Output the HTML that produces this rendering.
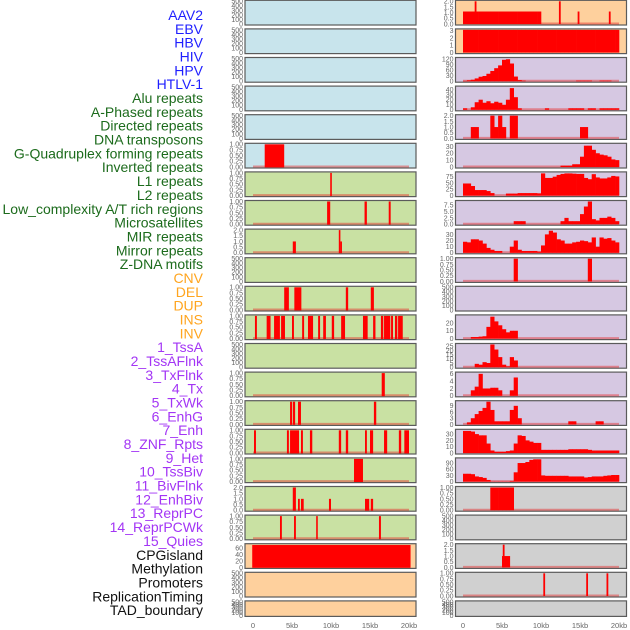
<!DOCTYPE html>
<html><head><meta charset="utf-8">
<style>
html,body{margin:0;padding:0;background:#fff;}
svg{display:block;}
text{font-family:"Liberation Sans",sans-serif;}
</style></head>
<body>
<svg id="chart" width="630" height="630" viewBox="0 0 630 630" xmlns="http://www.w3.org/2000/svg"></svg>
<script>
// ---------- data ----------
const trackLabels = ["AAV2","EBV","HBV","HIV","HPV","HTLV-1","Alu repeats","A-Phased repeats","Directed repeats","DNA transposons","G-Quadruplex forming repeats","Inverted repeats","L1 repeats","L2 repeats","Low_complexity A/T rich regions","Microsatellites","MIR repeats","Mirror repeats","Z-DNA motifs","CNV","DEL","DUP","INS","INV","1_TssA","2_TssAFlnk","3_TxFlnk","4_Tx","5_TxWk","6_EnhG","7_Enh","8_ZNF_Rpts","9_Het","10_TssBiv","11_BivFlnk","12_EnhBiv","13_ReprPC","14_ReprPCWk","15_Quies","CPGisland","Methylation","Promoters","ReplicationTiming","TAD_boundary"];
const labelGroups = [0,0,0,0,0,0,1,1,1,1,1,1,1,1,1,1,1,1,1,2,2,2,2,2,3,3,3,3,3,3,3,3,3,3,3,3,3,3,3,4,4,4,4,4];
const xTickValues = [0,5000,10000,15000,20000];
const xTickLabels = ["0","5kb","10kb","15kb","20kb"];
const binSize = 500;

// right column binned values (40 bins of 500bp)
const rB0 = [1.1,1.1,1.1,1.1,1.1,1.1,1.1,1.1,1.1,1.1,1.1,1.1,1.1,1.1,1.1,1.1,1.1,1.1,1.1,1.1,0,0,0,0,0,0,0,0,0,0,0,0,0,0,0,0,0,0,0,0];
const rS0 = [[1600,2],[12400,2],[14800,1.1],[18800,1.1]];
const rB1 = [3.1,3.1,3.1,3.1,3.1,3.1,3.1,3.1,3.1,3.1,3.1,3.1,3.1,3.1,3.1,3.1,3.1,3.1,3.1,3.1,3.1,3.1,3.1,3.1,3.1,3.1,3.1,3.1,3.1,3.1,3.1,3.1,3.1,3.1,3.1,3.1,3.1,3.1,3.1,3.1];
const rB2 = [2,5,8,15,24,28,40,55,70,85,115,118,95,25,6,3,0,0,0,0,0,0,0,0,0,0,0,0,0,3,3,3,3,0,0,3,3,3,0,0];
const rB3 = [3,0,5,15,20,14,17,13,16,14,10,20,43,25,3,0,0,0,0,0,0,3,0,0,0,0,0,3,3,3,3,0,3,3,0,3,3,3,3,3];
const rB4 = [0,0,1,1,0,0,0,2,1,2,1,0,2,2,0,0,0,0,0,0,0,0,0,0,0,0,0,0,0,0,1,1,0,0,0,0,0,0,0,0];
const rB5 = [0,0,0,0,0,0,0,0,0,0,0,0,0,0,0,0,0,0,0,0,0,0,0,0,0,2,2,2,4,4,15,31,31,25,20,18,17,15,11,10];
const rB6 = [48,48,38,22,22,22,18,10,0,0,0,8,8,8,10,10,10,10,10,9,88,70,70,75,82,86,88,88,87,86,86,70,65,85,72,68,68,72,78,76];
const rB7 = [0,0,0,0,0,0,0,0,0,0,0,0,0,1.2,1.2,1.2,0,0,0,0,0,0,0,0,0,1.2,2.5,1.2,1.2,1.2,4,7,9,2,1.5,2.5,2.5,3,2.5,1.2];
const rB8 = [18,17,22,22,20,15,8,5,3,3,0,0,10,20,5,3,3,3,3,2,12,30,36,33,22,20,15,15,17,18,20,19,17,25,10,25,23,24,20,17];
const rB9 = [0,0,0,0,0,0,0,0,0,0,0,0,0,1,0,0,0,0,0,0,0,0,0,0,0,0,0,0,0,0,0,0,1,0,0,0,0,0,0,0];
const rB11 = [0,0,2,2,2.5,3,15,28,22,17,12,8,10,10,0,0,0,0,0,0,0,0,0,0,0,0,0,0,0,0,0,0,0,0,0,0,0,0,0,0];
const rB12 = [0,0,0,4,3,6,5,27,21,12,3,1,12,8,0,0,0,0,0,0,0,0,0,0,0,0,0,0,0,0,0,0,0,0,0,0,0,0,0,0];
const rB13 = [0,0,1.5,2.5,6,2,2,2.2,2.2,1.5,0,0,1.5,5,0,0,0,0,0,0,0,0,0,0,0,0,0,0,0,0,0,0,0,0,0,0,0,0,0,0];
const rB14 = [0,1,3,5,6.5,8,11,7,1.5,1.5,1.5,1.5,7,9,3,0,0,0,0,0,0,0,0,0,0,0,0,1.5,1.5,0,0,0,0,0,1.5,1.5,0,0,0,0];
const rB15 = [35,35,34,30,28,28,15,4,2,2,2,3,4,15,28,27,20,18,16,16,5,5,5,5,5,5,5,6,6,6,6,6,5,4,4,4,4,4,4,4];
const rB16 = [38,38,36,25,22,18,8,1,1,1,1,1,3,45,90,90,95,105,108,108,30,28,28,28,28,28,28,25,25,25,25,20,22,25,25,25,28,30,32,32];
const rB17 = [0,0,0,0,0,0,0,1,1,1,1,1,1,0,0,0,0,0,0,0,0,0,0,0,0,0,0,0,0,0,0,0,0,0,0,0,0,0,0,0];
const rB19 = [0,0,0,0,0,0,0,0,0,0,1,1,0,0,0,0,0,0,0,0,0,0,0,0,0,0,0,0,0,0,0,0,0,0,0,0,0,0,0,0];
const rS19 = [[5200,2]];
const rS20 = [[10400,1],[15900,1],[18500,1]];

// left column intervals [start, end, value]
const lI5 = [[1500,4000,1]];
const lI6 = [[9900,10100,1]];
const lI7 = [[9500,9900,1],[14300,14600,1],[17400,17650,1]];
const lI8 = [[5100,5500,1],[11000,11200,2],[11200,11400,1]];
const lI10 = [[4000,4600,1],[5300,6200,1],[11900,12200,1],[15100,15500,1]];
const lI11 = [[250,500,1],[1750,2250,1],[2700,3450,1],[3600,4100,1],[5000,5250,1],[6300,6550,1],[7050,7700,1],[8350,8600,1],[9000,9350,1],[10100,10400,1],[11300,11800,1],[14100,14700,1],[15400,15700,1],[16400,16700,1],[16800,17600,1],[17700,17950,1],[18200,18500,1],[18600,19200,1]];
const lI13 = [[16500,16900,1]];
const lI14 = [[4750,5000,1],[5100,5400,1],[5770,6150,1],[15500,15800,1]];
const lI15 = [[130,380,1],[4350,4600,1],[4750,5900,1],[6150,6400,1],[7300,7600,1],[11000,11300,1],[11900,12200,1],[14360,14600,1],[15000,15400,1],[16800,17200,1],[18700,19000,1],[19400,20000,1]];
const lI16 = [[12950,14100,1]];
const lI17 = [[5100,5500,2],[5770,6000,1],[6150,6500,1],[9740,10000,1],[14360,14900,1],[15100,15400,1]];
const lI18 = [[3460,3700,1],[5260,5500,1],[8100,8300,1],[16150,16400,1]];
const lI19 = [[-100,20200,69]];

// tick sets
const tEmpty = [0,100,200,300,400,500];
const tEmptyL = ["0","100","200","300","400","500"];
const tOne = [0,0.25,0.5,0.75,1];
const tOneL = ["0.00","0.25","0.50","0.75","1.00"];
const tTwo = [0,0.5,1,1.5,2];
const tTwoL = ["0.0","0.5","1.0","1.5","2.0"];

// ---------- layout ----------
const svg = document.getElementById('chart');
const NS = 'http://www.w3.org/2000/svg';
const colors = {blue:'#c8e4ec', green:'#c9e1a3', peach:'#fed09d', purple:'#d6c8e2', gray:'#d0d0d0'};
const labelColors = ['#1f1fff','#1c6b1c','#ffa51f','#a335f5','#111111'];
function rowTop(r){return 0.3 + r*28.6;}
function rowH(r){return r===21?15.5:24.7;}
function xScale(col,p){return (col==='L'?253:463) + p/20000*156;}
function mk(tag,attrs,parent){const e=document.createElementNS(NS,tag);for(const k in attrs)e.setAttribute(k,attrs[k]);(parent||svg).appendChild(e);return e;}

function emptyP(col,row,bg){return {col,row,bg,ymax:500,ticks:tEmpty,tl:tEmptyL,empty:true};}
const panels = [];
for(let r=0;r<5;r++) panels.push(emptyP('L',r,colors.blue));
panels.push({col:'L',row:5,bg:colors.blue,ymax:1,ticks:tOne,tl:tOneL,iv:lI5});
const leftIv = {6:lI6,7:lI7,8:lI8,10:lI10,11:lI11,13:lI13,14:lI14,15:lI15,16:lI16,17:lI17,18:lI18};
for(let r=6;r<=18;r++){
  if(r===9||r===12){panels.push(emptyP('L',r,colors.green));continue;}
  const two = (r===8||r===17);
  panels.push({col:'L',row:r,bg:colors.green,ymax:two?2:1,ticks:two?tTwo:tOne,tl:two?tTwoL:tOneL,iv:leftIv[r]});
}
panels.push({col:'L',row:19,bg:colors.peach,ymax:70,ticks:[0,20,40,60],tl:["0","20","40","60"],iv:lI19,nobase:true});
panels.push(emptyP('L',20,colors.peach));
panels.push(emptyP('L',21,colors.peach));

panels.push({col:'R',row:0,bg:colors.peach,ymax:2,ticks:tTwo,tl:tTwoL,bins:rB0,sp:rS0});
panels.push({col:'R',row:1,bg:colors.peach,ymax:3.1,ticks:[0,1,2,3],tl:["0","1","2","3"],bins:rB1,nobase:true});
panels.push({col:'R',row:2,bg:colors.purple,ymax:122,ticks:[0,30,60,90,120],tl:["0","30","60","90","120"],bins:rB2});
panels.push({col:'R',row:3,bg:colors.purple,ymax:45,ticks:[0,10,20,30,40],tl:["0","10","20","30","40"],bins:rB3});
panels.push({col:'R',row:4,bg:colors.purple,ymax:2,ticks:tTwo,tl:tTwoL,bins:rB4});
panels.push({col:'R',row:5,bg:colors.purple,ymax:33,ticks:[0,10,20,30],tl:["0","10","20","30"],bins:rB5});
panels.push({col:'R',row:6,bg:colors.purple,ymax:90,ticks:[0,25,50,75],tl:["0","25","50","75"],bins:rB6});
panels.push({col:'R',row:7,bg:colors.purple,ymax:9,ticks:[0,2.5,5,7.5],tl:["0.0","2.5","5.0","7.5"],bins:rB7});
panels.push({col:'R',row:8,bg:colors.purple,ymax:37,ticks:[0,10,20,30],tl:["0","10","20","30"],bins:rB8});
panels.push({col:'R',row:9,bg:colors.purple,ymax:1,ticks:tOne,tl:tOneL,bins:rB9});
panels.push(emptyP('R',10,colors.purple));
panels.push({col:'R',row:11,bg:colors.purple,ymax:29,ticks:[0,10,20],tl:["0","10","20"],bins:rB11});
panels.push({col:'R',row:12,bg:colors.purple,ymax:27,ticks:[0,5,10,15,20,25],tl:["0","5","10","15","20","25"],bins:rB12});
panels.push({col:'R',row:13,bg:colors.purple,ymax:6.2,ticks:[0,2,4,6],tl:["0","2","4","6"],bins:rB13});
panels.push({col:'R',row:14,bg:colors.purple,ymax:11,ticks:[0,3,6,9],tl:["0","3","6","9"],bins:rB14});
panels.push({col:'R',row:15,bg:colors.purple,ymax:36,ticks:[0,10,20,30],tl:["0","10","20","30"],bins:rB15});
panels.push({col:'R',row:16,bg:colors.purple,ymax:110,ticks:[0,30,60,90],tl:["0","30","60","90"],bins:rB16});
panels.push({col:'R',row:17,bg:colors.gray,ymax:1,ticks:tOne,tl:tOneL,bins:rB17});
panels.push(emptyP('R',18,colors.gray));
panels.push({col:'R',row:19,bg:colors.gray,ymax:2,ticks:tTwo,tl:tTwoL,bins:rB19,sp:rS19});
panels.push({col:'R',row:20,bg:colors.gray,ymax:1,ticks:tOne,tl:tOneL,sp:rS20});
panels.push(emptyP('R',21,colors.gray));

// ---------- labels ----------
trackLabels.forEach((t,i)=>{
  const el = mk('text',{x:203,y:(15+i*13.84+5).toFixed(1),'text-anchor':'end','font-size':'14',fill:labelColors[labelGroups[i]]});
  el.textContent = t;
  
  
});

// ---------- panels ----------
panels.forEach(p=>{
  const g = mk('g',{});
  
  
  const left = p.col==='L'?245:455.5, w = 171, top = rowTop(p.row), h = rowH(p.row);
  const y0 = top + h - 1, y1 = top + 1;
  const ys = v => y0 - v/p.ymax*(y0-y1);
  const bgR = mk('rect',{x:left,y:top,width:w,height:h,fill:p.bg,stroke:'#5b5b5b','stroke-width':1.2},g);
  
  
  // ticks
  p.ticks.forEach((tv,i)=>{
    const tt = mk('text',{x:left-2,y:(ys(tv)+2.4).toFixed(1),'text-anchor':'end','font-size':'7',fill:'#666'},g);
    tt.textContent = p.tl[i];
    
    
  });
  if(p.empty) return;
  if(!p.nobase){
    const bl = mk('line',{x1:xScale(p.col,0),x2:xScale(p.col,20000),y1:y0-0.5,y2:y0-0.5,stroke:'rgba(230,40,40,0.45)','stroke-width':2},g);
    
    
  }
  if(p.bins){
    p.bins.forEach((v,i)=>{
      if(v<=0) return;
      const xa = xScale(p.col,i*binSize), xb = xScale(p.col,(i+1)*binSize);
      const b = mk('rect',{x:xa.toFixed(2),y:ys(v).toFixed(2),width:(xb-xa+0.3).toFixed(2),height:(y0-ys(v)).toFixed(2),fill:'#ff0000'},g);
      
      
    });
  }
  if(p.iv){
    p.iv.forEach(d=>{
      const xa = xScale(p.col,d[0]), xb = xScale(p.col,d[1]);
      const yt = Math.max(ys(d[2]), top+0.6);
      const b = mk('rect',{x:xa.toFixed(2),y:yt.toFixed(2),width:Math.max(xb-xa,1.6).toFixed(2),height:(y0+0.4-yt).toFixed(2),fill:'#ff0000'},g);
      
      
    });
  }
  if(p.sp){
    p.sp.forEach(d=>{
      const xa = xScale(p.col,d[0]);
      const b = mk('rect',{x:(xa-0.8).toFixed(2),y:ys(d[1]).toFixed(2),width:1.8,height:(y0-ys(d[1])).toFixed(2),fill:'#ff0000'},g);
      
      
    });
  }
});

// ---------- x axes ----------
['L','R'].forEach(col=>{
  xTickValues.forEach((v,i)=>{
    const t = mk('text',{x:xScale(col,v).toFixed(1),y:628,'text-anchor':'middle','font-size':'7.5',fill:'#666'});
    t.textContent = xTickLabels[i];
    
    
  });
});
</script>
</body></html>
